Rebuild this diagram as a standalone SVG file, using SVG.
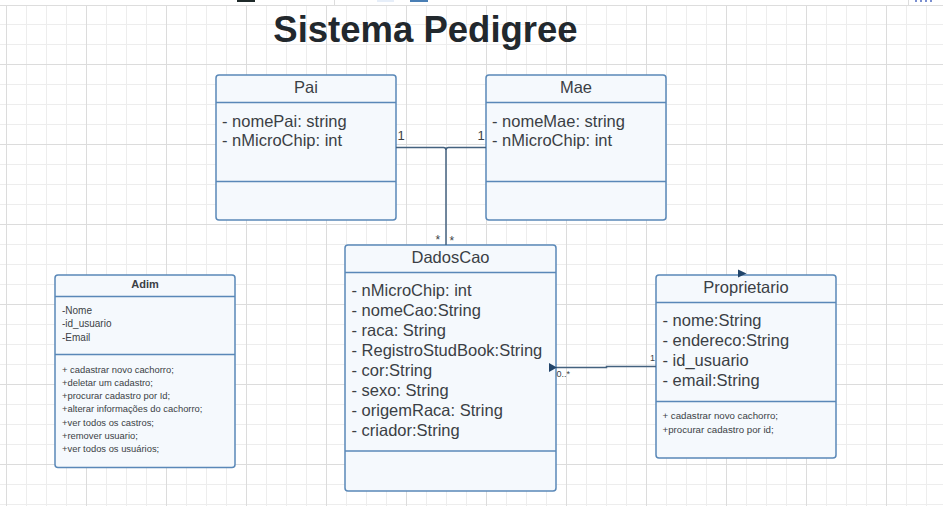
<svg xmlns="http://www.w3.org/2000/svg" width="943" height="506" viewBox="0 0 943 506">
<defs>
<pattern id="minor" patternUnits="userSpaceOnUse" x="6" y="4" width="20" height="20">
<path d="M0.5 0V20M0 0.5H20" stroke="#ededed" stroke-width="1" fill="none"/>
</pattern>
<pattern id="major" patternUnits="userSpaceOnUse" x="6" y="-16" width="80" height="80">
<path d="M0.5 0V80M0 0.5H80" stroke="#dcdcdc" stroke-width="1" fill="none"/>
</pattern>
<style>
.box{fill:#f5f9fd;stroke:#5a88b8;stroke-width:1.5}
.div{stroke:#5a88b8;stroke-width:1.5;fill:none}
.t{font-family:"Liberation Sans",Arial,sans-serif;fill:#3b3f45}
.h{font-size:16.5px;text-anchor:middle}
.a{font-size:16.5px}
.s{font-size:10px}
.m{font-size:9.4px}
.pm{font-size:9.7px}
.lbl{font-family:"Liberation Sans",Arial,sans-serif;fill:#3b3f45}
.con{stroke:#44627f;stroke-width:1.5;fill:none}
.arr{fill:#22456a}
</style>
</defs>
<rect x="0" y="0" width="943" height="506" fill="#ffffff"/>
<rect x="0" y="6" width="943" height="500" fill="url(#minor)"/>
<rect x="0" y="6" width="943" height="500" fill="url(#major)"/>
<line x1="0" y1="5.5" x2="943" y2="5.5" stroke="#dddddd" stroke-width="1"/>
<g id="toolbar">
<rect x="237" y="0" width="18" height="2" fill="#1f2a2a"/>
<line x1="334.5" y1="0" x2="334.5" y2="5" stroke="#dddddd"/>
<rect x="377" y="0" width="17" height="2" fill="#e6eef9"/>
<rect x="410" y="0" width="18" height="2" fill="#4a7fb5"/>
<line x1="908.5" y1="0" x2="908.5" y2="5" stroke="#dddddd"/>
<rect x="915" y="0" width="2" height="2" fill="#7a8fd0"/>
<rect x="920" y="0" width="2" height="2" fill="#7a8fd0"/>
<rect x="925" y="0" width="2" height="2" fill="#7a8fd0"/>
<rect x="930" y="0" width="2" height="2" fill="#7a8fd0"/>
</g>
<g id="title">
<text x="425.5" y="41.5" text-anchor="middle" font-family="'Liberation Sans',Arial,sans-serif" font-weight="bold" font-size="36.5" fill="#22282d">Sistema Pedigree</text>
</g>
<g id="Pai">
<rect class="box" x="216" y="75" width="180" height="145" rx="3"/>
<line class="div" x1="216" y1="102.5" x2="396" y2="102.5"/>
<line class="div" x1="216" y1="181.5" x2="396" y2="181.5"/>
<text class="t h" x="306" y="92.5">Pai</text>
<text class="t a" x="222" y="126.5">- nomePai: string</text>
<text class="t a" x="222" y="146">- nMicroChip: int</text>
</g>
<g id="Mae">
<rect class="box" x="486" y="75" width="180" height="145" rx="3"/>
<line class="div" x1="486" y1="102.5" x2="666" y2="102.5"/>
<line class="div" x1="486" y1="181.5" x2="666" y2="181.5"/>
<text class="t h" x="576" y="92.5">Mae</text>
<text class="t a" x="492" y="126.5">- nomeMae: string</text>
<text class="t a" x="492" y="146">- nMicroChip: int</text>
</g>
<g id="DadosCao">
<rect class="box" x="345" y="245" width="211" height="246" rx="3"/>
<line class="div" x1="345" y1="272.5" x2="556" y2="272.5"/>
<line class="div" x1="345" y1="451" x2="556" y2="451"/>
<text class="t h" x="450.5" y="262.5">DadosCao</text>
<text class="t a" x="351.5" y="296">- nMicroChip: int</text>
<text class="t a" x="351.5" y="316">- nomeCao:String</text>
<text class="t a" x="351.5" y="336">- raca: String</text>
<text class="t a" x="351.5" y="356">- RegistroStudBook:String</text>
<text class="t a" x="351.5" y="376">- cor:String</text>
<text class="t a" x="351.5" y="396">- sexo: String</text>
<text class="t a" x="351.5" y="416">- origemRaca: String</text>
<text class="t a" x="351.5" y="435.5">- criador:String</text>
</g>
<g id="Proprietario">
<rect class="box" x="656" y="275" width="180" height="183" rx="3"/>
<line class="div" x1="656" y1="302.5" x2="836" y2="302.5"/>
<line class="div" x1="656" y1="401.5" x2="836" y2="401.5"/>
<text class="t h" x="746" y="292.5">Proprietario</text>
<text class="t a" x="662.5" y="326">- nome:String</text>
<text class="t a" x="662.5" y="346">- endereco:String</text>
<text class="t a" x="662.5" y="366">- id_usuario</text>
<text class="t a" x="662.5" y="385.5">- email:String</text>
<text class="t pm" x="662.5" y="418.5">+ cadastrar novo cachorro;</text>
<text class="t pm" x="662.5" y="432.5">+procurar cadastro por id;</text>
</g>
<g id="Adim">
<rect class="box" x="55" y="275" width="180" height="192.5" rx="3"/>
<line class="div" x1="55" y1="296.5" x2="235" y2="296.5"/>
<line class="div" x1="55" y1="354.5" x2="235" y2="354.5"/>
<text class="t" x="145" y="288" text-anchor="middle" font-size="11" font-weight="bold">Adim</text>
<text class="t s" x="62" y="313.5">-Nome</text>
<text class="t s" x="62" y="327">-id_usuario</text>
<text class="t s" x="62" y="340.5">-Email</text>
<text class="t m" x="62" y="372.5">+ cadastrar novo cachorro;</text>
<text class="t m" x="62" y="385.8">+deletar um cadastro;</text>
<text class="t m" x="62" y="399">+procurar cadastro por Id;</text>
<text class="t m" x="62" y="412.3">+alterar informações do cachorro;</text>
<text class="t m" x="62" y="425.7">+ver todos os castros;</text>
<text class="t m" x="62" y="439">+remover usuario;</text>
<text class="t m" x="62" y="452.3">+ver todos os usuários;</text>
</g>
<g id="connectors">
<path class="con" d="M396 147.5H443.5Q446 147.5 446 150V245"/>
<path class="con" d="M486 147.5H448.5Q446 147.5 446 150"/>
<path class="con" d="M556 367.5H606.5V366.5H656"/>
<polygon class="arr" points="549,363 557,367.5 549,372"/>
<polygon class="arr" points="738,269.5 746.5,273.5 738,277.5"/>
<text class="lbl" x="397.5" y="140" font-size="13">1</text>
<text class="lbl" x="477.5" y="140" font-size="13">1</text>
<text class="lbl" x="435.5" y="243.5" font-size="12">*</text>
<text class="lbl" x="449.5" y="244.5" font-size="12">*</text>
<text class="lbl" x="556.5" y="376.5" font-size="9">0..*</text>
<text class="lbl" x="650" y="361" font-size="9">1</text>
</g>
</svg>
